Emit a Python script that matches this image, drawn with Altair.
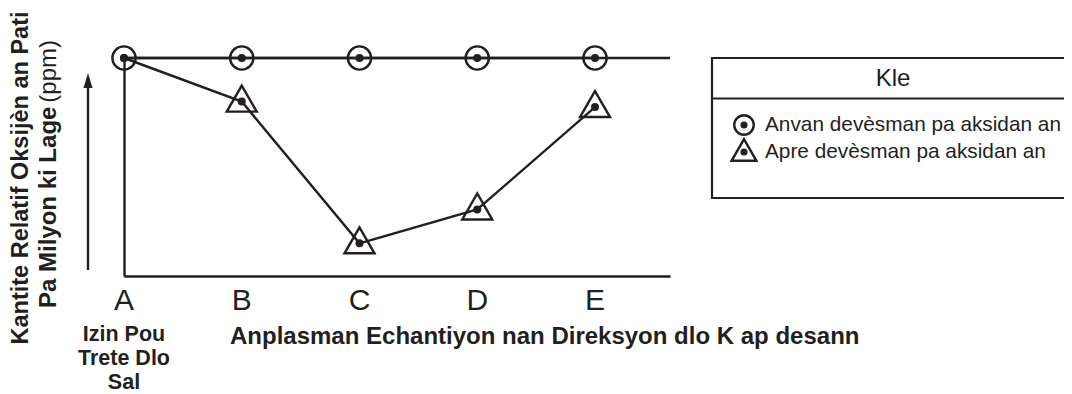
import altair as alt
import pandas as pd

# ---- data ----
sites = ["A", "B", "C", "D", "E"]
site_index = [0, 1, 2, 3, 4]
before_values = [10, 10, 10, 10, 10]
after_values = [10, 8.0, 1.5, 3.05, 7.75]
after_has_triangle = [False, True, True, True, True]

y_title_line1 = "Kantite Relatif Oksijèn an Pati"
y_title_line2_bold = "Pa Milyon ki Lage"
y_title_line2_normal = "(ppm)"
x_title_left = ["Izin Pou", "Trete Dlo", "Sal"]
x_title_main = "Anplasman Echantiyon  nan Direksyon dlo K ap desann"
legend_title = "Kle"
legend_labels = ["Anvan devèsman pa aksidan an", "Apre devèsman pa aksidan an"]

# ---- layout ----
PW, PH = 546, 218
PAD = {"left": 116, "top": 50, "right": 1056 - 116 - 546, "bottom": 386 - 50 - 218}
XMAX = 546 / 117.75
INK = "#231f20"
FONT = "Liberation Sans"
SW = 2.4

df = pd.DataFrame({
    "idx": site_index,
    "site": sites,
    "before": before_values,
    "after": after_values,
    "tri": after_has_triangle,
})
one = pd.DataFrame({"k": [0]})

xs = alt.Scale(domain=[0, XMAX], nice=False, zero=False)
ys = alt.Scale(domain=[0, 10], nice=False)
X = alt.X("idx:Q", scale=xs,
          axis=alt.Axis(domain=True, domainColor=INK, domainWidth=SW, ticks=False,
                        labels=False, grid=False, title=""))
Y_before = alt.Y("before:Q", scale=ys,
                 axis=alt.Axis(domain=True, domainColor=INK, domainWidth=SW, ticks=False,
                               labels=False, grid=False, title=""))

base = alt.Chart(df)

top_frame = alt.Chart(one).mark_rule(color=INK, strokeWidth=SW).encode(
    x=alt.datum(0), x2=alt.datum(XMAX), y=alt.datum(10))

line_before = base.mark_line(color=INK, strokeWidth=SW).encode(x=X, y=Y_before)
line_after = base.mark_line(color=INK, strokeWidth=SW).encode(
    x=alt.X("idx:Q", scale=xs), y=alt.Y("after:Q", scale=ys))

circles = base.mark_point(shape="circle", filled=False, size=540, color=INK,
                          strokeWidth=SW, opacity=1).encode(
    x=alt.X("idx:Q", scale=xs), y=alt.Y("before:Q", scale=ys))
triangles = base.transform_filter("datum.tri").mark_point(
    shape="triangle-up", filled=False, size=900, color=INK, strokeWidth=SW,
    opacity=1, yOffset=-3).encode(
    x=alt.X("idx:Q", scale=xs), y=alt.Y("after:Q", scale=ys))
dots_before = base.mark_circle(size=64, color=INK, opacity=1).encode(
    x=alt.X("idx:Q", scale=xs), y=alt.Y("before:Q", scale=ys))
dots_after = base.mark_circle(size=64, color=INK, opacity=1).encode(
    x=alt.X("idx:Q", scale=xs), y=alt.Y("after:Q", scale=ys))

letters = base.mark_text(font=FONT, fontSize=30, color=INK, baseline="middle").encode(
    x=alt.X("idx:Q", scale=xs), y=alt.value(243), text="site:N")

left_title = alt.Chart(one).mark_text(
    font=FONT, fontSize=21.5, fontWeight="bold", color=INK, align="center",
    baseline="alphabetic", lineHeight=24, text=x_title_left).encode(
    x=alt.value(0), y=alt.value(283))
main_title = alt.Chart(one).mark_text(
    font=FONT, fontSize=24, fontWeight="bold", color=INK, align="left",
    baseline="alphabetic", text=x_title_main).encode(
    x=alt.value(106), y=alt.value(286))

ytitle1 = alt.Chart(one).mark_text(
    font=FONT, fontSize=23.5, fontWeight="bold", color=INK, align="center",
    baseline="middle", angle=270, text=y_title_line1).encode(
    x=alt.value(-103), y=alt.value(120))
ytitle2a = alt.Chart(one).mark_text(
    font=FONT, fontSize=24, fontWeight="bold", color=INK, align="left",
    baseline="middle", angle=270, text=y_title_line2_bold).encode(
    x=alt.value(-75), y=alt.value(250))
ytitle2b = alt.Chart(one).mark_text(
    font=FONT, fontSize=24, color=INK, align="right",
    baseline="middle", angle=270, text=y_title_line2_normal).encode(
    x=alt.value(-75), y=alt.value(-18))

arrow_shaft = alt.Chart(one).mark_rule(color=INK, strokeWidth=SW).encode(
    x=alt.value(-36), y=alt.value(212), y2=alt.value(28))
arrow_head = alt.Chart(one).mark_point(
    shape="M0,-1L0.6,1L-0.6,1Z", filled=True, size=225, color=INK, opacity=1).encode(
    x=alt.value(-36), y=alt.value(22.5))

# legend box
LX0, LX1 = 588, 962
legend_box = alt.Chart(one).mark_rect(fill="white", stroke=INK, strokeWidth=2.2).encode(
    x=alt.value(LX0), x2=alt.value(LX1), y=alt.value(0), y2=alt.value(140))
legend_div = alt.Chart(one).mark_rule(color=INK, strokeWidth=2.2).encode(
    x=alt.value(LX0), x2=alt.value(LX1), y=alt.value(40.5))
legend_head = alt.Chart(one).mark_text(
    font=FONT, fontSize=24, color=INK, align="center", baseline="middle",
    text=legend_title).encode(x=alt.value(769), y=alt.value(21))

leg_layers = []
shapes = [("circle", 380, 0), ("triangle-up", 620, -2)]
row_y = [67, 94]
for i, lab in enumerate(legend_labels):
    shp, sz, off = shapes[i]
    leg_layers.append(alt.Chart(one).mark_point(
        shape=shp, filled=False, size=sz, color=INK, strokeWidth=SW, opacity=1,
        yOffset=off).encode(x=alt.value(620), y=alt.value(row_y[i])))
    leg_layers.append(alt.Chart(one).mark_circle(size=50, color=INK, opacity=1).encode(
        x=alt.value(620), y=alt.value(row_y[i])))
    leg_layers.append(alt.Chart(one).mark_text(
        font=FONT, fontSize=20.8, color=INK, align="left", baseline="middle",
        text=lab).encode(x=alt.value(641), y=alt.value(row_y[i])))

chart = alt.layer(
    line_before, top_frame, line_after, circles, triangles, dots_before, dots_after,
    letters, left_title, main_title, ytitle1, ytitle2a, ytitle2b,
    arrow_shaft, arrow_head, legend_box, legend_div, legend_head, *leg_layers,
).properties(
    width=PW, height=PH, padding=PAD, background="white",
    autosize=alt.AutoSizeParams(type="none"),
).configure_view(stroke=None)

chart.save("out.html", embed_options={"renderer": "svg", "actions": False})
